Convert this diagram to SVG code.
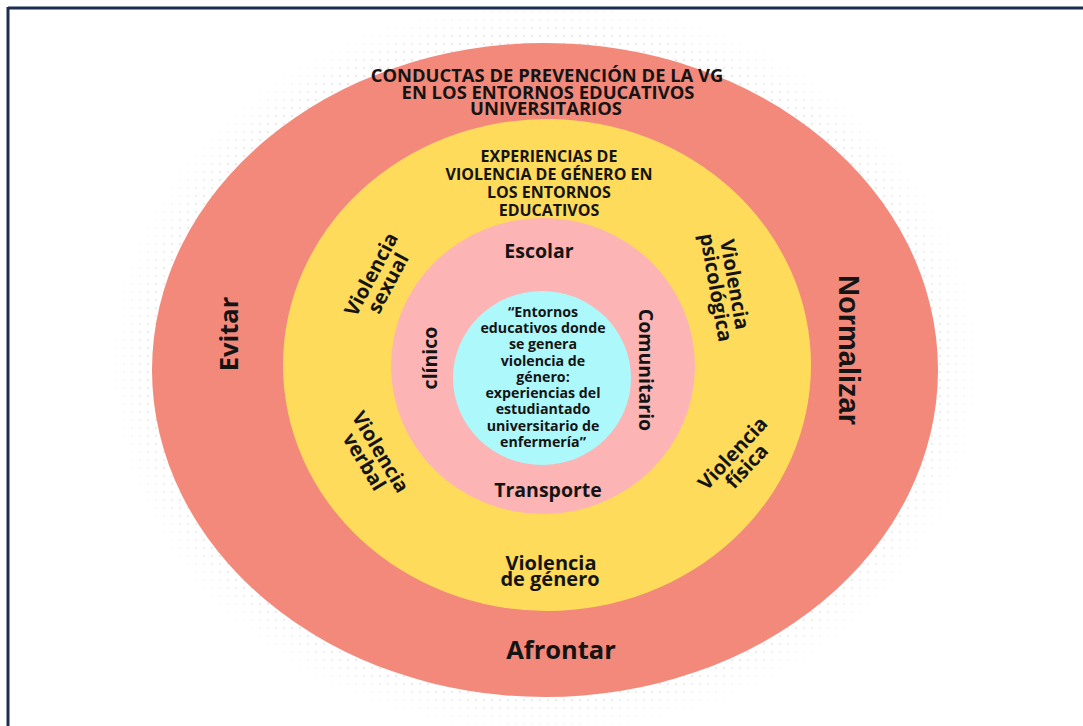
<svg xmlns="http://www.w3.org/2000/svg" width="1083" height="726" viewBox="0 0 1083 726">
<style>
text{font-family:"Open Sans","Noto Sans","Liberation Sans",sans-serif;fill:#141414;text-anchor:middle}
.t1{font-size:18.4px;font-weight:700}
.t2{font-size:16px;font-weight:700}
.t3{font-size:19.5px;font-weight:700}
.t4{font-size:25.5px;font-weight:700}
.t5{font-size:14.2px;font-weight:700}
.t6{font-size:20px;font-weight:700}
.n{font-family:"Liberation Sans",Arial,sans-serif;font-size:29px;font-weight:700}
</style>
<defs>
<pattern id="dots" width="8" height="8" patternUnits="userSpaceOnUse">
<circle cx="4" cy="4" r="1.1" fill="#d9d9d9"/>
</pattern>
<radialGradient id="fade" cx="0.5" cy="0.5" r="0.5">
<stop offset="0.85" stop-color="#fff"/>
<stop offset="1" stop-color="#000"/>
</radialGradient>
<mask id="haloMask">
<ellipse cx="545" cy="367" rx="435" ry="368" fill="url(#fade)"/>
</mask>
</defs>
<rect width="1083" height="726" fill="#fff"/>
<g id="border">
<line x1="8" y1="8" x2="1083" y2="8" stroke="#1d2e50" stroke-width="3"/>
<line x1="8" y1="7" x2="8" y2="726" stroke="#1d2e50" stroke-width="3"/>
</g>
<g id="halo">
<ellipse cx="545" cy="367" rx="435" ry="368" fill="url(#dots)" mask="url(#haloMask)"/>
</g>
<g id="ring-conductas">
<ellipse cx="545" cy="370" rx="393" ry="327" fill="#f2897b"/>
<text class="t1" x="547" y="82">CONDUCTAS DE PREVENCIÓN DE LA VG</text>
<text class="t1" x="548" y="99">EN LOS ENTORNOS EDUCATIVOS</text>
<text class="t1" x="546" y="115">UNIVERSITARIOS</text>
<text class="t4" transform="translate(238 334) rotate(-90)">Evitar</text>
<text class="n" transform="translate(839 350) rotate(90)">Normalizar</text>
<text class="t4" x="561" y="659">Afrontar</text>
</g>
<g id="ring-experiencias">
<ellipse cx="547" cy="365" rx="264" ry="246" fill="#fedb5b"/>
<text class="t2" x="549" y="162">EXPERIENCIAS DE</text>
<text class="t2" x="549" y="180">VIOLENCIA DE GÉNERO EN</text>
<text class="t2" x="549" y="198">LOS ENTORNOS</text>
<text class="t2" x="549" y="216">EDUCATIVOS</text>
<g transform="translate(380 279) rotate(-62)">
<text class="t6" x="0" y="-3">Violencia</text>
<text class="t6" x="0" y="16">sexual</text>
</g>
<g transform="translate(725 286) rotate(80)">
<text class="t6" x="0" y="-3">Violencia</text>
<text class="t6" x="0" y="16">psicológica</text>
</g>
<g transform="translate(372 457) rotate(59)">
<text class="t6" x="0" y="-3">Violencia</text>
<text class="t6" x="0" y="16">verbal</text>
</g>
<g transform="translate(740 460) rotate(-47)">
<text class="t6" x="0" y="-3">Violencia</text>
<text class="t6" x="0" y="16">física</text>
</g>
<text class="t6" x="551" y="570">Violencia</text>
<text class="t6" x="550" y="586">de género</text>
</g>
<g id="ring-entornos">
<ellipse cx="543" cy="366" rx="152" ry="148" fill="#fdb4b4"/>
<text class="t3" x="539" y="258">Escolar</text>
<text class="t3" x="548" y="497">Transporte</text>
<text class="t3" transform="translate(437 358) rotate(-90)">clínico</text>
<text class="t3" transform="translate(639 370) rotate(90)">Comunitario</text>
</g>
<g id="center">
<ellipse cx="542" cy="378" rx="89" ry="87" fill="#adf8fb"/>
<text class="t5" x="543" y="317">“Entornos</text>
<text class="t5" x="543" y="333">educativos donde</text>
<text class="t5" x="543" y="349">se genera</text>
<text class="t5" x="543" y="366">violencia de</text>
<text class="t5" x="543" y="382">género:</text>
<text class="t5" x="543" y="398">experiencias del</text>
<text class="t5" x="543" y="414">estudiantado</text>
<text class="t5" x="543" y="431">universitario de</text>
<text class="t5" x="543" y="447">enfermería”</text>
</g>
<g id="connectors"></g>
</svg>
